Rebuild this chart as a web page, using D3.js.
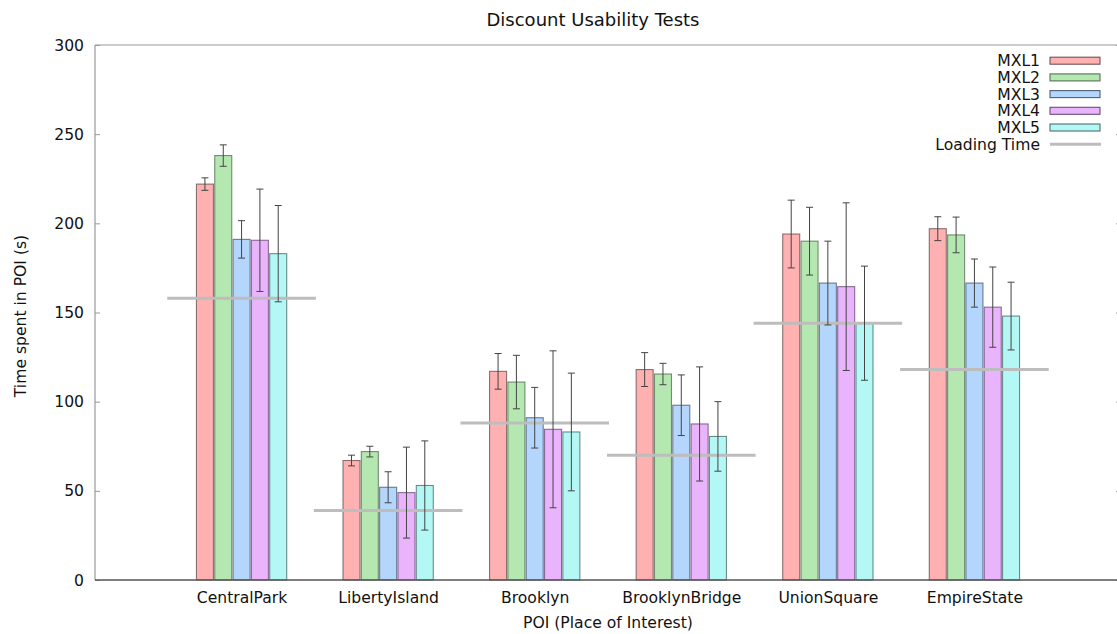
<!DOCTYPE html>
<html>
<head>
<meta charset="utf-8">
<script src="https://cdn.jsdelivr.net/npm/d3@7"></script>
<style>
  body { margin: 0; background: #fff; }
  svg { font-family: "DejaVu Sans", sans-serif; }
</style>
</head>
<body>
<svg id="chart"></svg>
<script>
const categories = ['CentralPark', 'LibertyIsland', 'Brooklyn', 'BrooklynBridge', 'UnionSquare', 'EmpireState'];
const seriesNames = ['MXL1', 'MXL2', 'MXL3', 'MXL4', 'MXL5'];

const mxl1 = [222, 67, 117, 118, 194, 197];
const mxl1Err = [3.5, 3, 10, 9.5, 19, 6.7];
const mxl2 = [238, 72, 111, 115.5, 190, 193.5];
const mxl2Err = [6, 3, 15, 6, 19, 10];
const mxl3 = [191, 52, 91, 98, 166.5, 166.5];
const mxl3Err = [10.5, 8.7, 17, 17, 23.5, 13.5];
const mxl4 = [190.5, 49, 84.5, 87.5, 164.5, 153];
const mxl4Err = [28.7, 25.5, 44, 32, 47, 22.5];
const mxl5 = [183, 53, 83, 80.5, 144, 148];
const mxl5Err = [27, 25, 33, 19.5, 32, 19];
const loadingTime = [158, 39, 88, 70, 144, 118];

const yTicks = [0, 50, 100, 150, 200, 250, 300];

const values = [mxl1, mxl2, mxl3, mxl4, mxl5];
const errors = [mxl1Err, mxl2Err, mxl3Err, mxl4Err, mxl5Err];
const fills = ['#ffb0b0', '#b4e8b0', '#b4d6fc', '#e9b4fb', '#b4f8f6'];
const strokes = ['#6d5555', '#577057', '#4f5f78', '#6b4f78', '#4f6e6d'];

const w = 1117;
const h = 634;
const margin = { top: 45, right: -4, bottom: 54, left: 95 };

const svg = d3.select('#chart').attr('width', w).attr('height', h);

const x = d3.scaleLinear().domain([-1, 6]).range([margin.left, w - margin.right]);
const y = d3.scaleLinear().domain([0, 300]).range([h - margin.bottom, margin.top]);

const step = 0.125;
const barW = 0.116;

// frame
svg.append('line').attr('x1', x(-1)).attr('x2', x(6)).attr('y1', y(300)).attr('y2', y(300))
  .attr('stroke', '#999').attr('stroke-width', 1.2);
svg.append('line').attr('x1', x(-1)).attr('x2', x(-1)).attr('y1', y(0)).attr('y2', y(300))
  .attr('stroke', '#999').attr('stroke-width', 1.2);

// y axis
const yAxis = svg.append('g')
  .attr('transform', `translate(${x(-1)},0)`)
  .call(d3.axisLeft(y).tickValues(yTicks).tickSize(-5).tickPadding(11));
yAxis.select('.domain').remove();
yAxis.selectAll('line').attr('stroke', '#999');
yAxis.selectAll('text').style('font-size', '15.6px').style('font-family', '"DejaVu Sans"').attr('fill', '#111');

// mirrored ticks on right
const yAxisR = svg.append('g')
  .attr('transform', `translate(${x(6)},0)`)
  .call(d3.axisRight(y).tickValues(yTicks).tickSize(-5).tickFormat(''));
yAxisR.select('.domain').remove();
yAxisR.selectAll('line').attr('stroke', '#999');

// bars
const groups = svg.append('g');
values.forEach((vals, s) => {
  const off = (s - 2) * step;
  groups.selectAll(null).data(vals).enter().append('rect')
    .attr('x', (d, i) => x(i + off - barW / 2))
    .attr('width', x(barW) - x(0))
    .attr('y', (d) => y(d))
    .attr('height', (d) => y(0) - y(d))
    .attr('fill', fills[s])
    .attr('stroke', strokes[s])
    .attr('stroke-opacity', 0.8)
    .attr('stroke-width', 1.1);
});

// loading time
svg.append('g').selectAll('line').data(loadingTime).enter().append('line')
  .attr('x1', (d, i) => x(i - 0.507))
  .attr('x2', (d, i) => x(i + 0.507))
  .attr('y1', (d) => y(d))
  .attr('y2', (d) => y(d))
  .attr('stroke', '#bdbdbd')
  .attr('stroke-width', 3);

// error bars
const eb = svg.append('g').attr('stroke', '#444').attr('stroke-width', 1);
errors.forEach((errs, s) => {
  const off = (s - 2) * step;
  errs.forEach((e, i) => {
    const cx = x(i + off);
    const v = values[s][i];
    const g = eb.append('g');
    g.append('line').attr('x1', cx).attr('x2', cx).attr('y1', y(v - e)).attr('y2', y(v + e));
    g.append('line').attr('x1', cx - 3.5).attr('x2', cx + 3.5).attr('y1', y(v - e)).attr('y2', y(v - e));
    g.append('line').attr('x1', cx - 3.5).attr('x2', cx + 3.5).attr('y1', y(v + e)).attr('y2', y(v + e));
  });
});

// bottom axis
const xAxis = svg.append('g')
  .attr('transform', `translate(0,${y(0)})`)
  .call(d3.axisBottom(x).tickValues(d3.range(categories.length)).tickFormat((i) => categories[i]).tickSize(0).tickPadding(12));
xAxis.select('.domain').remove();
xAxis.selectAll('text').style('font-size', '15.6px').style('font-family', '"DejaVu Sans"').attr('fill', '#111');
svg.append('line').attr('x1', x(-1)).attr('x2', x(6)).attr('y1', y(0)).attr('y2', y(0))
  .attr('stroke', '#555').attr('stroke-width', 1.3);

// titles
svg.append('text').attr('x', 593).attr('y', 26).attr('text-anchor', 'middle')
  .style('font-size', '18px').attr('fill', '#111').text('Discount Usability Tests');
svg.append('text').attr('x', (x(-1) + x(6)) / 2).attr('y', 628).attr('text-anchor', 'middle')
  .style('font-size', '15.6px').attr('fill', '#111').text('POI (Place of Interest)');
svg.append('text').attr('transform', `translate(26,${316}) rotate(-90)`).attr('text-anchor', 'middle')
  .style('font-size', '15.6px').attr('fill', '#111').text('Time spent in POI (s)');

// legend
const legend = svg.append('g');
const rowY = (k) => 60.7 + k * 16.7;
seriesNames.forEach((name, s) => {
  legend.append('text').attr('x', 1040).attr('y', rowY(s)).attr('dy', '0.35em').attr('text-anchor', 'end')
    .style('font-size', '15.6px').attr('fill', '#111').text(name);
  legend.append('rect').attr('x', 1050).attr('y', rowY(s) - 3.5).attr('width', 50).attr('height', 7)
    .attr('fill', fills[s]).attr('stroke', strokes[s]).attr('stroke-width', 1.1);
});
legend.append('text').attr('x', 1040).attr('y', rowY(5)).attr('dy', '0.35em').attr('text-anchor', 'end')
  .style('font-size', '15.6px').attr('fill', '#111').text('Loading Time');
legend.append('line').attr('x1', 1050).attr('x2', 1101).attr('y1', rowY(5)).attr('y2', rowY(5))
  .attr('stroke', '#bdbdbd').attr('stroke-width', 3);
</script>
</body>
</html>
